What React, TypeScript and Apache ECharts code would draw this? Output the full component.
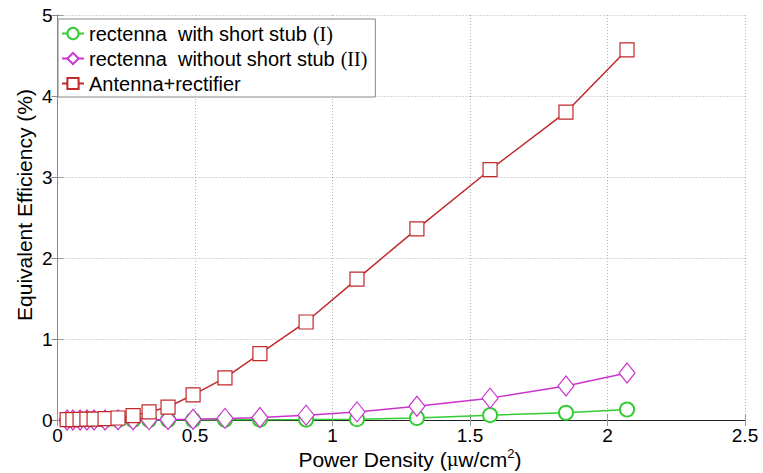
import React, { useEffect, useRef } from "react";
import * as echarts from "echarts";

const powerDensity = [0.035, 0.056, 0.082, 0.107, 0.133, 0.173, 0.22, 0.275, 0.333, 0.402, 0.493, 0.609, 0.736, 0.904, 1.089, 1.307, 1.573, 1.849, 2.071];
const withStub = [0, 0, 0, 0, 0, 0, 0, 0, 0, 0, 0, 0.002, 0.004, 0.005, 0.01, 0.025, 0.06, 0.09, 0.13];
const withoutStub = [0, 0, 0, 0, 0, 0, 0.002, 0.003, 0.004, 0.005, 0.01, 0.02, 0.03, 0.06, 0.1, 0.17, 0.27, 0.42, 0.58];
const antennaRectifier = [0.005, 0.005, 0.007, 0.01, 0.012, 0.017, 0.025, 0.055, 0.1, 0.16, 0.31, 0.52, 0.82, 1.21, 1.74, 2.36, 3.09, 3.8, 4.57];

const seriesNames = ["rectenna  with short stub", "rectenna  without short stub", "Antenna+rectifier"];
const romanTags = ["(I)", "(II)", ""];
const xTitle = "Power Density (μw/cm2)";
const yTitle = "Equivalent Efficiency (%)";

const pair = (ys: number[]) => powerDensity.map((x, i) => [x, ys[i]]);

export default function App() {
  const ref = useRef<HTMLDivElement>(null);
  useEffect(() => {
    const chart = echarts.init(ref.current!, null, { renderer: "svg" });
    const font = "Liberation Sans, Arial, sans-serif";
    const serif = "Liberation Serif, Times New Roman, serif";
    const gridLine = { show: true, lineStyle: { color: "#b0b0b0", type: [1, 2] as any, width: 1 } };
    chart.setOption({
      animation: false,
      backgroundColor: "#ffffff",
      grid: { left: 57.5, right: 18, top: 15, bottom: 53 },
      graphic: [
        {
          type: "text",
          x: 24,
          y: 205,
          rotation: Math.PI / 2,
          style: {
            text: yTitle,
            font: `21px ${font}`,
            fill: "#000",
            align: "center",
            verticalAlign: "middle",
          },
        },
        {
          type: "text",
          x: 410,
          y: 459,
          style: {
            text: "{a|Power Density (}{m|μ}{a|w/cm}{s|2}{a|)}",
            align: "center",
            verticalAlign: "middle",
            rich: {
              a: { fontFamily: font, fontSize: 21, fill: "#000" },
              m: { fontFamily: "DejaVu Serif, serif", fontSize: 18, fill: "#000" },
              s: { fontFamily: font, fontSize: 13, fill: "#000", verticalAlign: "top", padding: [0, 0, 11, 0] },
            },
          },
        },
      ],
      legend: {
        left: 58,
        top: 19,
        orient: "vertical",
        backgroundColor: "#ffffff",
        borderColor: "#888888",
        borderWidth: 1,
        borderRadius: 0,
        padding: [4, 8, 3, 3],
        itemGap: 4,
        itemWidth: 22,
        itemHeight: 14,
        textStyle: {
          fontFamily: font,
          fontSize: 20,
          lineHeight: 21,
          color: "#000",
          rich: {
            a: { fontFamily: font, fontSize: 20, lineHeight: 21, color: "#000" },
            b: { fontFamily: serif, fontSize: 20, lineHeight: 21, color: "#000", padding: [0, 0, 0, 6] },
          },
        },
        formatter: (name: string) => {
          const i = seriesNames.indexOf(name);
          return romanTags[i] ? `{a|${name}}{b|${romanTags[i]}}` : `{a|${name}}`;
        },
        data: seriesNames,
      },
      xAxis: [
        {
          type: "value",
          min: 0,
          max: 2.5,
          interval: 0.5,
          axisLine: { show: true, lineStyle: { color: "#999999", width: 1 } },
          axisTick: { show: true, inside: true, length: 6, lineStyle: { color: "#999999" } },
          axisLabel: { fontFamily: font, fontSize: 19, color: "#000", margin: 6 },
          splitLine: gridLine,
        },
        {
          type: "value",
          position: "top",
          min: 0,
          max: 2.5,
          interval: 0.5,
          axisLine: { show: true, lineStyle: { color: "#222222", width: 1 } },
          axisTick: { show: true, inside: true, length: 6, lineStyle: { color: "#999999" } },
          axisLabel: { show: false },
          splitLine: { show: false },
        },
      ],
      yAxis: [
        {
          type: "value",
          min: 0,
          max: 5,
          interval: 1,
          axisLine: { show: true, lineStyle: { color: "#999999", width: 1 } },
          axisTick: { show: true, inside: true, length: 6, lineStyle: { color: "#999999" } },
          axisLabel: { fontFamily: font, fontSize: 19, color: "#000", margin: 5 },
          splitLine: gridLine,
        },
        {
          type: "value",
          position: "right",
          min: 0,
          max: 5,
          interval: 1,
          axisLine: { show: true, lineStyle: { color: "#888888", width: 1 } },
          axisTick: { show: true, inside: true, length: 6, lineStyle: { color: "#888888" } },
          axisLabel: { show: false },
          splitLine: { show: false },
        },
      ],
      series: [
        {
          name: seriesNames[0],
          type: "line",
          data: pair(withStub),
          symbol: "emptyCircle",
          symbolSize: 14,
          color: "#33cc33",
          lineStyle: { width: 1.5, color: "#33cc33" },
          itemStyle: { color: "#33cc33", borderWidth: 1.2 },
          z: 3,
        },
        {
          name: seriesNames[1],
          type: "line",
          data: pair(withoutStub),
          symbol: "path://M0,-1L0.75,0L0,1L-0.75,0Z",
          symbolSize: [16, 20],
          color: "#cc33cc",
          lineStyle: { width: 1.5, color: "#cc33cc" },
          itemStyle: { color: "#ffffff", borderColor: "#cc33cc", borderWidth: 1.2 },
          z: 4,
        },
        {
          name: seriesNames[2],
          type: "line",
          data: pair(antennaRectifier),
          symbol: "rect",
          symbolSize: 14,
          color: "#c0282a",
          lineStyle: { width: 1.5, color: "#c0282a" },
          itemStyle: { color: "#ffffff", borderColor: "#c0282a", borderWidth: 1.2 },
          z: 5,
        },
      ],
    });
    return () => chart.dispose();
  }, []);
  return <div ref={ref} style={{ width: 763, height: 473, position: "absolute", left: 0, top: 0 }} />;
}
